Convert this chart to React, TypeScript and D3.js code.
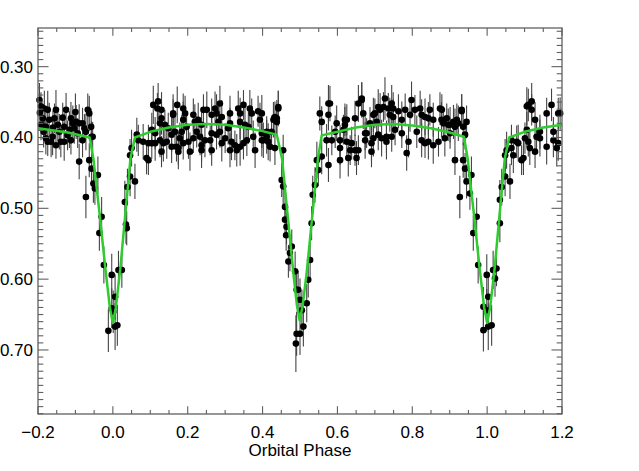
import * as d3 from "d3";

// ─────────────────────────────────────────────────────────────────────────────
// DATA — [phase, flux, error], one list per stretch
// ─────────────────────────────────────────────────────────────────────────────
type Obs = [number, number, number];

const preEclipse: Obs[] = [
  [-0.196, 0.347, 0.024], [-0.192, 0.356, 0.020], [-0.195, 0.365, 0.026], [-0.192, 0.382, 0.022],
  [-0.187, 0.373, 0.019], [-0.185, 0.392, 0.022], [-0.183, 0.359, 0.025], [-0.179, 0.385, 0.021],
  [-0.179, 0.401, 0.023], [-0.174, 0.361, 0.027], [-0.174, 0.406, 0.020], [-0.170, 0.375, 0.024],
  [-0.165, 0.406, 0.022], [-0.161, 0.399, 0.026], [-0.160, 0.386, 0.024], [-0.156, 0.373, 0.021],
  [-0.152, 0.361, 0.028], [-0.152, 0.411, 0.019], [-0.147, 0.382, 0.023], [-0.143, 0.392, 0.025],
  [-0.139, 0.406, 0.022], [-0.134, 0.372, 0.021], [-0.130, 0.385, 0.020], [-0.130, 0.406, 0.027],
  [-0.125, 0.361, 0.024], [-0.121, 0.397, 0.021], [-0.116, 0.389, 0.026], [-0.112, 0.373, 0.023],
  [-0.112, 0.404, 0.020], [-0.107, 0.380, 0.025], [-0.103, 0.387, 0.022], [-0.100, 0.364, 0.026],
  [-0.098, 0.378, 0.024], [-0.094, 0.394, 0.021], [-0.090, 0.380, 0.027], [-0.090, 0.434, 0.025],
  [-0.081, 0.380, 0.022], [-0.081, 0.404, 0.024], [-0.076, 0.387, 0.020], [-0.072, 0.392, 0.026],
  [-0.067, 0.361, 0.023], [-0.063, 0.366, 0.025],
];

const primaryEclipse: Obs[] = [
  [-0.063, 0.432, 0.024], [-0.058, 0.385, 0.026], [-0.057, 0.399, 0.022], [-0.057, 0.444, 0.025],
  [-0.054, 0.399, 0.021], [-0.052, 0.465, 0.027], [-0.048, 0.472, 0.023], [-0.040, 0.453, 0.026],
  [-0.072, 0.484, 0.030], [-0.030, 0.512, 0.028], [-0.036, 0.535, 0.025], [-0.024, 0.580, 0.026],
  [-0.003, 0.594, 0.030], [0.015, 0.587, 0.027], [0.024, 0.587, 0.025], [0.006, 0.625, 0.032],
  [-0.003, 0.641, 0.028], [0.001, 0.646, 0.030], [-0.012, 0.673, 0.030], [0.006, 0.667, 0.033],
  [0.012, 0.665, 0.029], [0.035, 0.523, 0.027], [0.037, 0.528, 0.024], [0.032, 0.491, 0.030],
  [0.039, 0.470, 0.026], [0.046, 0.455, 0.028], [0.059, 0.462, 0.025], [0.046, 0.425, 0.023],
  [0.050, 0.415, 0.026],
];

const firstMaximum: Obs[] = [
  [0.064, 0.396, 0.024], [0.068, 0.404, 0.022], [0.081, 0.406, 0.025], [0.090, 0.429, 0.023],
  [0.095, 0.408, 0.026], [0.095, 0.432, 0.021], [0.104, 0.389, 0.024], [0.104, 0.408, 0.022],
  [0.108, 0.354, 0.027], [0.113, 0.394, 0.023], [0.113, 0.408, 0.025], [0.119, 0.359, 0.022],
  [0.121, 0.349, 0.026], [0.126, 0.380, 0.021], [0.126, 0.404, 0.024], [0.130, 0.361, 0.025],
  [0.130, 0.373, 0.023], [0.130, 0.420, 0.022], [0.135, 0.408, 0.026], [0.139, 0.382, 0.021],
  [0.144, 0.406, 0.024], [0.148, 0.387, 0.022], [0.157, 0.396, 0.025], [0.157, 0.413, 0.023],
  [0.161, 0.366, 0.027], [0.161, 0.368, 0.022], [0.166, 0.392, 0.024], [0.170, 0.413, 0.021],
  [0.172, 0.354, 0.026], [0.175, 0.415, 0.023], [0.175, 0.420, 0.025], [0.179, 0.401, 0.022],
  [0.184, 0.392, 0.024], [0.188, 0.359, 0.021], [0.188, 0.375, 0.026], [0.188, 0.408, 0.023],
  [0.193, 0.366, 0.025], [0.197, 0.385, 0.022], [0.202, 0.406, 0.024], [0.206, 0.420, 0.027],
  [0.215, 0.368, 0.023], [0.215, 0.401, 0.021], [0.219, 0.378, 0.025], [0.224, 0.392, 0.022],
  [0.228, 0.375, 0.024], [0.233, 0.399, 0.026], [0.237, 0.382, 0.021], [0.237, 0.411, 0.023],
  [0.237, 0.418, 0.025], [0.242, 0.361, 0.022], [0.246, 0.404, 0.024], [0.251, 0.361, 0.026],
  [0.260, 0.404, 0.021], [0.264, 0.368, 0.023], [0.264, 0.394, 0.025], [0.264, 0.418, 0.022],
  [0.273, 0.359, 0.024], [0.277, 0.366, 0.027], [0.277, 0.396, 0.021], [0.282, 0.378, 0.023],
  [0.286, 0.352, 0.025], [0.286, 0.392, 0.022], [0.291, 0.371, 0.024], [0.291, 0.408, 0.026],
  [0.300, 0.401, 0.021], [0.308, 0.387, 0.023], [0.313, 0.366, 0.025], [0.313, 0.380, 0.022],
  [0.313, 0.418, 0.024], [0.317, 0.406, 0.026], [0.326, 0.411, 0.021], [0.331, 0.418, 0.023],
  [0.335, 0.359, 0.025], [0.340, 0.366, 0.022], [0.340, 0.378, 0.024], [0.340, 0.413, 0.027],
  [0.349, 0.354, 0.021], [0.349, 0.408, 0.023], [0.353, 0.382, 0.025], [0.358, 0.404, 0.022],
  [0.362, 0.385, 0.024], [0.366, 0.359, 0.026], [0.371, 0.366, 0.021], [0.375, 0.399, 0.023],
  [0.380, 0.418, 0.025], [0.388, 0.363, 0.022], [0.393, 0.375, 0.024], [0.398, 0.366, 0.026],
  [0.398, 0.394, 0.021], [0.398, 0.404, 0.023], [0.402, 0.404, 0.025], [0.411, 0.392, 0.022],
  [0.411, 0.399, 0.024], [0.415, 0.406, 0.026], [0.420, 0.413, 0.021], [0.424, 0.392, 0.023],
  [0.429, 0.375, 0.025], [0.433, 0.371, 0.022], [0.433, 0.415, 0.024],
];

const secondaryEclipse: Obs[] = [
  [0.438, 0.373, 0.026], [0.438, 0.378, 0.021], [0.442, 0.357, 0.023], [0.442, 0.359, 0.025],
  [0.455, 0.418, 0.022], [0.451, 0.460, 0.024], [0.455, 0.469, 0.026], [0.460, 0.498, 0.021],
  [0.460, 0.516, 0.023], [0.464, 0.526, 0.025], [0.463, 0.538, 0.022], [0.478, 0.554, 0.024],
  [0.473, 0.563, 0.026], [0.469, 0.575, 0.023], [0.487, 0.589, 0.028], [0.495, 0.615, 0.027],
  [0.491, 0.615, 0.025], [0.500, 0.629, 0.030], [0.505, 0.644, 0.029], [0.491, 0.677, 0.031],
  [0.500, 0.677, 0.030], [0.489, 0.691, 0.040], [0.509, 0.667, 0.028], [0.518, 0.634, 0.027],
  [0.522, 0.601, 0.025], [0.527, 0.573, 0.026], [0.531, 0.521, 0.024], [0.534, 0.481, 0.027],
  [0.540, 0.467, 0.025], [0.549, 0.446, 0.023], [0.545, 0.432, 0.026], [0.553, 0.366, 0.024],
  [0.558, 0.378, 0.022], [0.558, 0.427, 0.025],
];

const secondMaximum: Obs[] = [
  [0.571, 0.404, 0.023], [0.576, 0.352, 0.026], [0.576, 0.368, 0.022], [0.576, 0.439, 0.024],
  [0.580, 0.352, 0.025], [0.585, 0.404, 0.021], [0.594, 0.392, 0.023], [0.598, 0.380, 0.025],
  [0.607, 0.404, 0.022], [0.607, 0.415, 0.024], [0.607, 0.432, 0.026], [0.616, 0.389, 0.021],
  [0.620, 0.375, 0.023], [0.620, 0.382, 0.025], [0.625, 0.375, 0.022], [0.625, 0.406, 0.024],
  [0.629, 0.429, 0.026], [0.634, 0.418, 0.021], [0.638, 0.408, 0.023], [0.647, 0.373, 0.025],
  [0.647, 0.418, 0.022], [0.651, 0.429, 0.024], [0.656, 0.352, 0.026], [0.656, 0.418, 0.021],
  [0.665, 0.345, 0.023], [0.665, 0.347, 0.025], [0.669, 0.366, 0.022], [0.674, 0.394, 0.024],
  [0.674, 0.404, 0.026], [0.678, 0.394, 0.021], [0.687, 0.380, 0.023], [0.691, 0.408, 0.025],
  [0.691, 0.420, 0.022], [0.696, 0.368, 0.024], [0.696, 0.401, 0.026], [0.700, 0.366, 0.021],
  [0.705, 0.378, 0.023], [0.709, 0.357, 0.025], [0.709, 0.396, 0.022], [0.714, 0.361, 0.024],
  [0.718, 0.401, 0.026], [0.723, 0.357, 0.021], [0.727, 0.345, 0.030], [0.731, 0.399, 0.023],
  [0.731, 0.406, 0.025], [0.736, 0.359, 0.022], [0.740, 0.368, 0.024], [0.745, 0.352, 0.026],
  [0.745, 0.399, 0.021], [0.749, 0.359, 0.023], [0.749, 0.371, 0.025], [0.754, 0.389, 0.022],
  [0.763, 0.363, 0.024], [0.772, 0.375, 0.026], [0.772, 0.394, 0.021], [0.781, 0.361, 0.023],
  [0.785, 0.422, 0.025], [0.790, 0.406, 0.022], [0.794, 0.368, 0.024], [0.798, 0.347, 0.026],
  [0.807, 0.361, 0.021], [0.812, 0.392, 0.023], [0.821, 0.359, 0.025], [0.825, 0.368, 0.022],
  [0.825, 0.404, 0.024], [0.834, 0.371, 0.026], [0.834, 0.408, 0.021], [0.843, 0.373, 0.023],
  [0.843, 0.406, 0.025], [0.847, 0.361, 0.022], [0.856, 0.375, 0.024], [0.856, 0.411, 0.026],
  [0.870, 0.406, 0.021], [0.874, 0.359, 0.023], [0.878, 0.375, 0.025], [0.879, 0.361, 0.022],
  [0.883, 0.380, 0.024], [0.887, 0.401, 0.026], [0.892, 0.373, 0.021], [0.896, 0.382, 0.023],
  [0.901, 0.382, 0.025], [0.901, 0.394, 0.022], [0.910, 0.378, 0.024], [0.914, 0.385, 0.026],
  [0.914, 0.432, 0.021], [0.919, 0.375, 0.023], [0.923, 0.380, 0.025], [0.932, 0.361, 0.022],
  [0.932, 0.363, 0.024],
];

const lateEclipse: Obs[] = [
  [0.936, 0.385, 0.026], [0.941, 0.396, 0.021], [0.945, 0.378, 0.023], [0.927, 0.484, 0.030],
  [0.936, 0.432, 0.025], [0.941, 0.444, 0.022], [0.945, 0.462, 0.024], [0.958, 0.453, 0.026],
  [0.954, 0.479, 0.023], [0.972, 0.512, 0.027], [0.963, 0.535, 0.025], [0.976, 0.580, 0.026],
  [0.999, 0.594, 0.029], [1.016, 0.587, 0.027], [1.025, 0.585, 0.025], [1.021, 0.599, 0.026],
  [1.003, 0.625, 0.031], [0.990, 0.639, 0.028], [0.999, 0.644, 0.030], [0.990, 0.672, 0.030],
  [1.003, 0.667, 0.033], [1.012, 0.665, 0.029], [1.034, 0.521, 0.027], [1.034, 0.488, 0.028],
  [1.039, 0.470, 0.026], [1.048, 0.455, 0.028], [1.061, 0.462, 0.025], [1.048, 0.425, 0.023],
  [1.052, 0.418, 0.026],
];

const postEclipse: Obs[] = [
  [1.065, 0.415, 0.024], [1.065, 0.404, 0.022], [1.070, 0.425, 0.025], [1.079, 0.406, 0.023],
  [1.083, 0.408, 0.026], [1.092, 0.432, 0.021], [1.097, 0.429, 0.024], [1.101, 0.401, 0.022],
  [1.106, 0.389, 0.025], [1.106, 0.356, 0.027], [1.110, 0.354, 0.023], [1.110, 0.406, 0.021],
  [1.114, 0.415, 0.024], [1.119, 0.349, 0.026], [1.119, 0.361, 0.022], [1.128, 0.375, 0.025],
  [1.128, 0.420, 0.023], [1.132, 0.399, 0.021], [1.141, 0.392, 0.024], [1.141, 0.401, 0.026],
  [1.159, 0.366, 0.022], [1.159, 0.413, 0.025], [1.172, 0.354, 0.023], [1.177, 0.392, 0.021],
  [1.177, 0.404, 0.024], [1.186, 0.415, 0.026], [1.190, 0.366, 0.022], [1.190, 0.408, 0.025],
  [1.195, 0.366, 0.023],
];

// Model light curve vertices (phase, flux)
const modelPhase = [
  -0.20, -0.12, -0.062, -0.052, -0.035, -0.020, -0.008, 0.000, 0.008, 0.020, 0.033, 0.047, 0.059,
  0.10, 0.15, 0.20, 0.25, 0.30, 0.35, 0.40, 0.438, 0.452, 0.467, 0.482, 0.492, 0.499, 0.507,
  0.518, 0.533, 0.548, 0.558, 0.60, 0.65, 0.70, 0.75, 0.80, 0.85, 0.90, 0.938, 0.948, 0.965,
  0.980, 0.992, 1.000, 1.008, 1.020, 1.033, 1.047, 1.059, 1.10, 1.15, 1.20,
];
const modelFlux = [
  0.387, 0.393, 0.400, 0.430, 0.510, 0.585, 0.640, 0.662, 0.640, 0.585, 0.510, 0.430, 0.400,
  0.392, 0.386, 0.382, 0.381, 0.382, 0.386, 0.391, 0.396, 0.430, 0.510, 0.590, 0.638, 0.658, 0.638,
  0.590, 0.510, 0.430, 0.397, 0.392, 0.386, 0.382, 0.381, 0.383, 0.387, 0.393, 0.399, 0.430, 0.510,
  0.585, 0.640, 0.662, 0.640, 0.585, 0.510, 0.430, 0.400, 0.392, 0.386, 0.382,
];

const xMajor = [-0.2, 0.0, 0.2, 0.4, 0.6, 0.8, 1.0, 1.2];
const yMajor = [0.30, 0.40, 0.50, 0.60, 0.70];

// ─────────────────────────────────────────────────────────────────────────────
// LAYOUT
// ─────────────────────────────────────────────────────────────────────────────
const VW = 639;
const VH = 471;
const margin = { top: 28, right: 77, bottom: 57, left: 38 };
const innerW = VW - margin.left - margin.right;
const innerH = VH - margin.top - margin.bottom;

const xScale = d3.scaleLinear().domain([-0.2, 1.2]).range([0, innerW]);
// flux axis runs downward (eclipses dip toward the bottom)
const yScale = d3.scaleLinear().domain([0.2454, 0.7904]).range([0, innerH]);

const xMinor = d3.range(-4, 25).map(i => i * 0.05);
const yMinor = d3.range(25, 80).map(i => i / 100);

const AXIS = "#606060";
const FONT = "'Liberation Sans', Arial, Helvetica, sans-serif";

export default function App() {
  const points = [
    ...preEclipse, ...primaryEclipse, ...firstMaximum, ...secondaryEclipse,
    ...secondMaximum, ...lateEclipse, ...postEclipse,
  ];

  const modelLine = d3.line<number>()
    .x((_, i) => xScale(modelPhase[i]))
    .y((_, i) => yScale(modelFlux[i]))(modelPhase);

  return (
    <div style={{ position: "fixed", left: 0, top: 0, width: VW, height: VH, background: "#fff" }}>
      <svg width={VW} height={VH} style={{ display: "block" }}>
        <g transform={`translate(${margin.left},${margin.top})`}>

          {/* error bars */}
          {points.map((d, i) => (
            <line key={"e" + i}
              x1={xScale(d[0])} x2={xScale(d[0])}
              y1={yScale(d[1] - d[2])} y2={yScale(d[1] + d[2])}
              stroke="#444" strokeWidth={1.1} />
          ))}

          {/* observations */}
          {points.map((d, i) => (
            <circle key={"p" + i}
              cx={xScale(d[0])} cy={yScale(d[1])} r={3.3} fill="#000" />
          ))}

          {/* model */}
          <path d={modelLine ?? ""} fill="none" stroke="#2ecc2e" strokeWidth={2.5}
            strokeLinejoin="round" />

          {/* frame */}
          <rect x={0} y={0} width={innerW} height={innerH}
            fill="none" stroke={AXIS} strokeWidth={1.3} />

          {/* x ticks, bottom and top */}
          {xMinor.map((t, i) => {
            const major = xMajor.some(m => Math.abs(m - t) < 1e-6);
            const len = major ? 7.7 : 3.9;
            return (
              <g key={"xt" + i}>
                <line x1={xScale(t)} x2={xScale(t)} y1={innerH} y2={innerH - len}
                  stroke={AXIS} strokeWidth={1.1} />
                <line x1={xScale(t)} x2={xScale(t)} y1={0} y2={len}
                  stroke={AXIS} strokeWidth={1.1} />
              </g>
            );
          })}

          {/* y ticks, left and right */}
          {yMinor.map((t, i) => {
            const major = yMajor.some(m => Math.abs(m - t) < 1e-6);
            const len = major ? 10.5 : 5.3;
            return (
              <g key={"yt" + i}>
                <line x1={0} x2={len} y1={yScale(t)} y2={yScale(t)}
                  stroke={AXIS} strokeWidth={1.1} />
                <line x1={innerW} x2={innerW - len} y1={yScale(t)} y2={yScale(t)}
                  stroke={AXIS} strokeWidth={1.1} />
              </g>
            );
          })}

          {/* tick labels */}
          {xMajor.map(t => (
            <text key={"xl" + t} x={xScale(t)} y={innerH + 24}
              textAnchor="middle" fontSize={17} fontFamily={FONT} fill="#000">
              {d3.format(".1f")(t)}
            </text>
          ))}
          {yMajor.map(t => (
            <text key={"yl" + t} x={-5} y={yScale(t)} dy="0.35em"
              textAnchor="end" fontSize={17} fontFamily={FONT} fill="#000">
              {d3.format(".2f")(t)}
            </text>
          ))}

          <text x={innerW / 2} y={innerH + 42} textAnchor="middle"
            fontSize={17} fontFamily={FONT} fill="#000">
            Orbital Phase
          </text>
        </g>
      </svg>
    </div>
  );
}
